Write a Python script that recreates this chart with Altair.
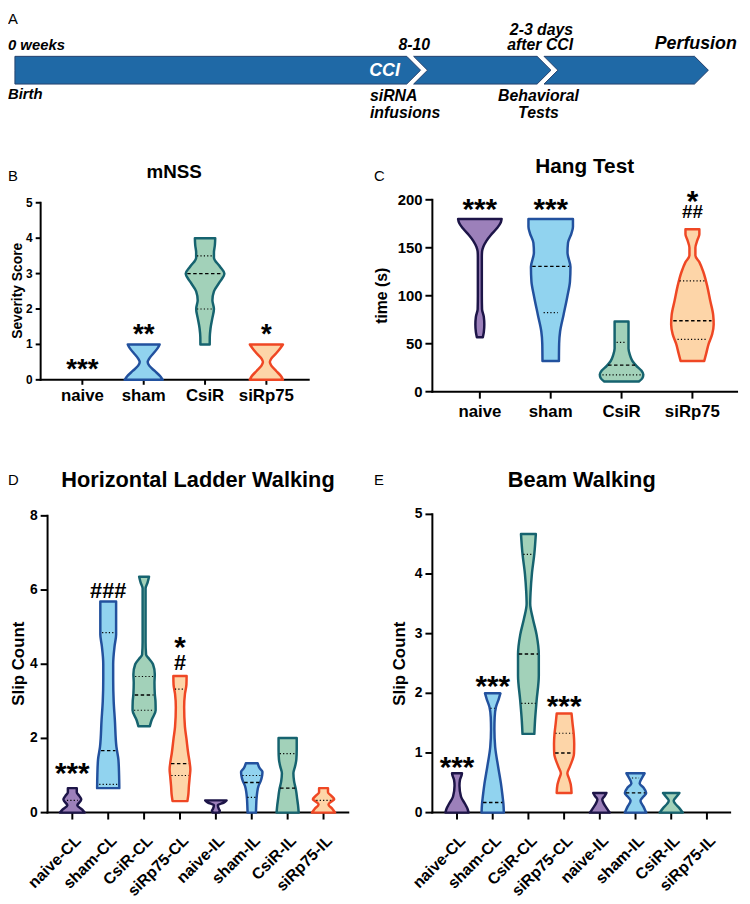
import altair as alt
import pandas as pd

FONT = "Liberation Sans"
W, H = 742, 896

# ---------------- colours (by treatment group) ----------------
base_groups = ["naive", "sham", "CsiR", "siRp75"]
fill_colors = ["#9c80ba", "#91d3ef", "#a2d1b9", "#fdd5a8"]
stroke_colors = ["#1d1548", "#22519e", "#16636f", "#ef4724"]

# ---------------- Panel A: timeline ----------------
timeline_milestones = ["Birth", "CCI", "Behavioral Tests", "Perfusion"]
timeline_pos = [0, 58.5, 77.3, 100]
timeline_upper_left = [("0 weeks", -1.0, 1.79)]
timeline_lower_left = [("Birth", -1.0, -1.71)]
timeline_upper_center = [("8-10", 57.6, 1.79)]
timeline_upper_right = [("2-3 days", 80.5, 2.93), ("after CCI", 80.5, 1.79)]
timeline_big_left = [("siRNA", 51.2, -1.9), ("infusions", 51.2, -3.08)]
timeline_big_center = [("Behavioral", 75.5, -1.9), ("Tests", 75.5, -3.08)]
timeline_big_right = [("Perfusion", 104.1, 1.86)]
timeline_inside = [("CCI", 53.3, -0.07)]

# ---------------- Panel B: mNSS (value, relative half-width) ----------------
mnss_groups = ["naive", "sham", "CsiR", "siRp75"]
mnss_values = {
    "sham": [0, 0.1, 0.25, 0.4, 0.5, 0.6, 0.75, 0.9, 1.0],
    "CsiR": [1.0, 1.2, 1.45, 1.75, 2.0, 2.25, 2.5, 2.75, 3.0, 3.2, 3.45, 3.6, 3.8, 4.0],
    "siRp75": [0, 0.1, 0.25, 0.4, 0.5, 0.6, 0.75, 0.9, 1.0],
}
mnss_widths = {
    "sham": [.31, .27, .18, .09, .065, .09, .16, .23, .26],
    "CsiR": [.076, .077, .089, .12, .145, .12, .145, .234, .315, .242, .145, .145, .16, .166],
    "siRp75": [.27, .24, .16, .08, .056, .08, .16, .23, .27],
}
mnss_lines = [("CsiR", 3.0, .29, "median"), ("CsiR", 3.5, .13, "quartile"), ("CsiR", 2.0, .13, "quartile")]
mnss_marks = [("naive", 0.48, "***"), ("sham", 1.47, "**"), ("siRp75", 1.47, "*")]
mnss_ticks = [0, 1, 2, 3, 4, 5]

# ---------------- Panel C: Hang test ----------------
hang_groups = ["naive", "sham", "CsiR", "siRp75"]
hang_values = {
    "naive": [56.7, 62, 70, 78, 86, 100, 120, 140, 146, 151, 157, 163, 170, 176, 180],
    "sham": [32, 50, 63, 80, 100, 115, 130, 145, 155, 165, 172, 180],
    "CsiR": [10.6, 14, 18, 22, 27, 32, 38, 45, 55, 65, 73.2],
    "siRp75": [32, 40, 50, 60, 70, 80, 95, 110, 125, 135, 142, 150, 158, 164, 169.4],
}
hang_widths = {
    "naive": [.042, .056, .063, .056, .031, .028, .028, .028, .031, .049, .091, .153, .237, .293, .307],
    "sham": [.116, .119, .133, .181, .237, .272, .279, .237, .244, .293, .314, .314],
    "CsiR": [.244, .293, .307, .279, .209, .153, .119, .098, .098, .098, .098],
    "siRp75": [.167, .195, .230, .279, .300, .293, .251, .209, .153, .098, .042, .042, .07, .098, .098],
}
hang_lines = [("sham", 130.6, .26, "median"), ("sham", 82.5, .10, "quartile"),
              ("CsiR", 27.7, .19, "median"), ("CsiR", 17.5, .27, "quartile"), ("CsiR", 51.5, .07, "quartile"),
              ("siRp75", 74, .27, "median"), ("siRp75", 115.5, .18, "quartile"), ("siRp75", 54.6, .21, "quartile")]
hang_marks = [("naive", 196.9, "***"), ("sham", 196.9, "***"), ("siRp75", 205.5, "*"), ("siRp75", 187.6, "##")]
hang_ticks = [0, 50, 100, 150, 200]

# ---------------- Panel D: Horizontal ladder walking ----------------
ladder_groups = ["naive-CL", "sham-CL", "CsiR-CL", "siRp75-CL", "naive-IL", "sham-IL", "CsiR-IL", "siRp75-IL"]
ladder_values = {
    "naive-CL": [0, 0.08, 0.2, 0.3, 0.36, 0.45, 0.55, 0.66],
    "sham-CL": [0.66, 1.0, 1.43, 1.77, 2.5, 3.0, 3.6, 4.0, 4.5, 4.8, 5.3, 5.69],
    "CsiR-CL": [2.33, 2.49, 2.76, 3.0, 3.2, 3.5, 3.73, 4.0, 4.15, 4.26, 4.6, 5.5, 6.04, 6.2, 6.36],
    "siRp75-CL": [0.31, 0.5, 0.71, 1.0, 1.16, 1.4, 1.6, 2.0, 2.31, 2.84, 3.2, 3.45, 3.68],
    "naive-IL": [0, 0.05, 0.1, 0.2, 0.27, 0.33],
    "sham-IL": [0, 0.2, 0.36, 0.55, 0.71, 0.85, 1.0, 1.1, 1.2, 1.33],
    "CsiR-IL": [0, 0.2, 0.36, 0.6, 0.85, 1.06, 1.25, 1.43, 1.7, 2.01],
    "siRp75-IL": [0, 0.1, 0.22, 0.3, 0.36, 0.45, 0.55, 0.66],
}
ladder_widths = {
    "naive-CL": [.344, .275, .138, .22, .248, .193, .124, .124],
    "sham-CL": [.309, .303, .284, .229, .185, .152, .138, .138, .179, .22, .22, .22],
    "CsiR-CL": [.16, .207, .322, .317, .298, .289, .298, .248, .138, .055, .041, .041, .041, .096, .138],
    "siRp75-CL": [.207, .234, .248, .275, .289, .262, .229, .179, .138, .116, .138, .179, .185],
    "naive-IL": [.083, .11, .083, .055, .22, .298],
    "sham-IL": [.116, .124, .132, .152, .185, .248, .289, .298, .22, .165],
    "CsiR-IL": [.309, .289, .267, .234, .179, .16, .207, .242, .253, .253],
    "siRp75-IL": [.322, .248, .138, .22, .298, .22, .124, .124],
}
ladder_lines = [("naive-CL", 0.33, .15, "quartile"),
                ("sham-CL", 1.67, .2, "median"), ("sham-CL", 4.85, .17, "quartile"), ("sham-CL", 0.76, .25, "quartile"),
                ("CsiR-CL", 3.17, .26, "median"), ("CsiR-CL", 3.67, .25, "quartile"), ("CsiR-CL", 2.76, .28, "quartile"),
                ("siRp75-CL", 1.32, .25, "median"), ("siRp75-CL", 3.33, .14, "quartile"), ("siRp75-CL", 1.0, .24, "quartile"),
                ("sham-IL", 0.81, .21, "median"), ("sham-IL", 1.0, .26, "quartile"), ("sham-IL", 0.41, .12, "quartile"),
                ("CsiR-IL", 0.66, .21, "median"), ("CsiR-IL", 1.59, .22, "quartile"),
                ("siRp75-IL", 0.33, .2, "quartile")]
ladder_marks = [("naive-CL", 1.24, "***"), ("sham-CL", 5.96, "###"), ("siRp75-CL", 4.64, "*"), ("siRp75-CL", 4.04, "#")]
ladder_ticks = [0, 2, 4, 6, 8]

# ---------------- Panel E: Beam walking ----------------
beam_groups = ["naive-CL", "sham-CL", "CsiR-CL", "siRp75-CL", "naive-IL", "sham-IL", "CsiR-IL", "siRp75-IL"]
beam_values = {
    "naive-CL": [0, 0.07, 0.14, 0.27, 0.45, 0.55, 0.62, 0.66],
    "sham-CL": [0, 0.15, 0.27, 0.49, 0.77, 1.1, 1.4, 1.6, 1.77, 1.9, 2.0],
    "CsiR-CL": [1.32, 1.55, 1.88, 2.3, 2.65, 2.98, 3.25, 3.5, 3.7, 4.0, 4.34, 4.67],
    "siRp75-CL": [0.33, 0.47, 0.57, 0.66, 0.77, 0.99, 1.15, 1.32, 1.5, 1.66],
    "naive-IL": [0, 0.08, 0.15, 0.22, 0.28, 0.33],
    "sham-IL": [0, 0.1, 0.2, 0.27, 0.33, 0.42, 0.49, 0.58, 0.66],
    "CsiR-IL": [0, 0.08, 0.15, 0.2, 0.27, 0.33],
}
beam_widths = {
    "naive-CL": [.324, .291, .23, .111, .069, .083, .125, .139],
    "sham-CL": [.313, .299, .277, .23, .152, .069, .047, .055, .091, .166, .216],
    "CsiR-CL": [.166, .186, .23, .291, .291, .23, .125, .05, .061, .097, .166, .208],
    "siRp75-CL": [.208, .186, .139, .091, .161, .277, .283, .269, .235, .208],
    "naive-IL": [.277, .186, .111, .069, .139, .186],
    "sham-IL": [.299, .222, .139, .222, .299, .222, .116, .18, .255],
    "CsiR-IL": [.324, .222, .111, .069, .152, .23],
}
beam_lines = [("sham-CL", 0.17, .27, "median"), ("sham-CL", 1.75, .06, "quartile"),
              ("CsiR-CL", 2.66, .27, "median"), ("CsiR-CL", 4.33, .14, "quartile"), ("CsiR-CL", 1.83, .2, "quartile"),
              ("siRp75-CL", 1.0, .25, "median"), ("siRp75-CL", 1.33, .24, "quartile"),
              ("sham-IL", 0.33, .27, "median"), ("sham-IL", 0.58, .1, "quartile")]
beam_marks = [("naive-CL", 0.88, "***"), ("sham-CL", 2.24, "***"), ("siRp75-CL", 1.90, "***")]
beam_ticks = [0, 1, 2, 3, 4, 5]

fill_scale = alt.Scale(domain=base_groups, range=fill_colors)
stroke_scale = alt.Scale(domain=base_groups, range=stroke_colors)


def text_layer(rows, xs, ys, size, dy=0, align="center", weight="bold", style="normal", color="black"):
    df = pd.DataFrame(rows, columns=["t", "xv", "yv"])
    return alt.Chart(df).mark_text(
        font=FONT, fontSize=size, fontWeight=weight, fontStyle=style, align=align,
        baseline="middle", dy=dy, color=color
    ).encode(
        x=alt.X("xv:Q", scale=xs, axis=None),
        y=alt.Y("yv:Q", scale=ys, axis=None),
        text="t:N",
    )


def axis_layers(groups, xs, ys, xdom, ydom, xrng, yrng, yticks, ylabel_size, xlabel_size, tick, rotate, xlab_dy):
    n = len(groups)
    X = lambda f: alt.X(f, scale=xs, axis=None)
    Y = lambda f: alt.Y(f, scale=ys, axis=None)
    out = []
    ydf = pd.DataFrame([{"x": xdom[0], "y": ydom[0], "y2": ydom[1]}])
    out.append(alt.Chart(ydf).mark_rule(color="black", strokeWidth=2, strokeCap="square").encode(
        x=X("x:Q"), y=Y("y:Q"), y2="y2:Q"))
    xdf = pd.DataFrame([{"x": xdom[0], "x2": xdom[1], "y": ydom[0]}])
    out.append(alt.Chart(xdf).mark_rule(color="black", strokeWidth=2, strokeCap="square").encode(
        x=X("x:Q"), x2="x2:Q", y=Y("y:Q")))
    ytdf = pd.DataFrame({"t": yticks, "x": [xdom[0]] * len(yticks), "lab": [str(v) for v in yticks]})
    out.append(alt.Chart(ytdf).mark_rule(color="black", strokeWidth=2).encode(
        x=X("x:Q"), x2=alt.value(xrng[0] - tick), y=Y("t:Q")))
    out.append(alt.Chart(ytdf).mark_text(
        font=FONT, fontSize=ylabel_size, fontWeight="bold", align="right", baseline="middle",
        dx=-(tick + 3), color="black").encode(x=X("x:Q"), y=Y("t:Q"), text="lab:N"))
    xtdf = pd.DataFrame({"i": list(range(n)), "y": [ydom[0]] * n, "lab": groups})
    out.append(alt.Chart(xtdf).mark_rule(color="black", strokeWidth=2).encode(
        x=X("i:Q"), y=Y("y:Q"), y2=alt.value(yrng[0] + tick)))
    if rotate:
        sx, sy = rotate
        ldx = round((sx - sy) * 0.7071, 1)
        ldy = round((sx + sy) * 0.7071, 1)
        out.append(alt.Chart(xtdf).mark_text(
            font=FONT, fontSize=xlabel_size, fontWeight="bold", align="right", baseline="middle",
            angle=315, dx=ldx, dy=ldy, color="black").encode(x=X("i:Q"), y=Y("y:Q"), text="lab:N"))
    else:
        out.append(alt.Chart(xtdf).mark_text(
            font=FONT, fontSize=xlabel_size, fontWeight="bold", align="center", baseline="top",
            dy=xlab_dy, color="black").encode(x=X("i:Q"), y=Y("y:Q"), text="lab:N"))
    return out


def violin_panel(groups, values, widths, lines, marks, xdom, xrng, ydom, yrng, yticks,
                 ylabel_size, xlabel_size, tick, rotate, xlab_dy, star_size, hash_size):
    rows = []
    for i, g in enumerate(groups):
        if g not in values:
            continue
        for v, w in zip(values[g], widths[g]):
            rows.append({"group": g, "base": g.split("-")[0], "v": v, "lo": i - w, "hi": i + w})
    df = pd.DataFrame(rows)
    xs = alt.Scale(domain=xdom, range=xrng, nice=False, zero=False)
    ys = alt.Scale(domain=ydom, range=yrng, nice=False, zero=False)
    layers = axis_layers(groups, xs, ys, xdom, ydom, xrng, yrng, yticks, ylabel_size, xlabel_size,
                         tick, rotate, xlab_dy)
    area = alt.Chart(df).mark_area(
        orient="horizontal", interpolate="monotone", strokeWidth=2.5, strokeJoin="round", opacity=1
    ).encode(
        x=alt.X("lo:Q", scale=xs, axis=None, stack=False),
        x2="hi:Q",
        y=alt.Y("v:Q", scale=ys, axis=None),
        fill=alt.Fill("base:N", scale=fill_scale, legend=None),
        stroke=alt.Stroke("base:N", scale=stroke_scale, legend=None),
        detail="group:N",
    )
    layers.append(area)
    lrows = [{"v": v, "lo": groups.index(g) - w, "hi": groups.index(g) + w, "kind": k} for g, v, w, k in lines]
    ldf = pd.DataFrame(lrows)
    for kind, dash, sw in [("median", [3.5, 2.5], 1.4), ("quartile", [1.2, 2.2], 1.2)]:
        sub = ldf[ldf["kind"] == kind]
        if len(sub):
            layers.append(alt.Chart(sub).mark_rule(color="black", strokeWidth=sw, strokeDash=dash).encode(
                x=alt.X("lo:Q", scale=xs, axis=None), x2="hi:Q",
                y=alt.Y("v:Q", scale=ys, axis=None)))
    srows = [(t, groups.index(g), v) for g, v, t in marks if "*" in t]
    hrows = [(t, groups.index(g), v) for g, v, t in marks if "#" in t]
    if srows:
        layers.append(text_layer(srows, xs, ys, star_size, dy=round(0.26 * star_size, 1)))
    if hrows:
        layers.append(text_layer(hrows, xs, ys, hash_size))
    return alt.layer(*layers)


# ---------------- Panel A build ----------------
chev, gap = 2.0, 1.0
seg_rows = []
for i in range(len(timeline_pos) - 1):
    a, b = timeline_pos[i], timeline_pos[i + 1]
    if i == 0:
        lc = lm = a
    else:
        lc, lm = a - chev + gap, a + gap
    for yv, l, r in [(-1, lc, b - chev), (0, lm, b), (1, lc, b - chev)]:
        seg_rows.append({"seg": timeline_milestones[i], "y": yv, "x": l, "x2": r})
seg_df = pd.DataFrame(seg_rows)
xsA = alt.Scale(domain=[0, 100], range=[7, 708], nice=False, zero=False)
ysA = alt.Scale(domain=[-1, 1], range=[72, 44], nice=False, zero=False)
bar = alt.Chart(seg_df).mark_area(
    orient="horizontal", interpolate="linear", fill="#1f69a6", stroke="#24416d", strokeWidth=1, opacity=1
).encode(
    x=alt.X("x:Q", scale=xsA, axis=None, stack=False),
    x2="x2:Q",
    y=alt.Y("y:Q", scale=ysA, axis=None),
    detail="seg:N",
)
panel_a = alt.layer(
    bar,
    text_layer(timeline_upper_left, xsA, ysA, 15, align="left", style="italic"),
    text_layer(timeline_lower_left, xsA, ysA, 15, align="left", style="italic"),
    text_layer(timeline_upper_center, xsA, ysA, 16, style="italic"),
    text_layer(timeline_upper_right, xsA, ysA, 16, align="right", style="italic"),
    text_layer(timeline_big_left, xsA, ysA, 16, align="left", style="italic"),
    text_layer(timeline_big_center, xsA, ysA, 16, style="italic"),
    text_layer(timeline_big_right, xsA, ysA, 18, align="right", style="italic"),
    text_layer(timeline_inside, xsA, ysA, 18, style="italic", color="white"),
)

panel_b = violin_panel(mnss_groups, mnss_values, mnss_widths, mnss_lines, mnss_marks,
                       [-0.68, 3.69], [33, 304], [0, 5], [371, 192], mnss_ticks,
                       12, 17, 5, None, 8, 28, 19)
panel_c = violin_panel(hang_groups, hang_values, hang_widths, hang_lines, hang_marks,
                       [-0.67, 3.63], [429, 737], [0, 200], [383, 189], hang_ticks,
                       15, 17, 7, None, 12.5, 30, 19)
panel_d = violin_panel(ladder_groups, ladder_values, ladder_widths, ladder_lines, ladder_marks,
                       [-0.69, 7.69], [40, 344], [0, 8], [808.5, 508.5], ladder_ticks,
                       14, 16, 7, (6, 26), 0, 30, 22)
panel_e = violin_panel(beam_groups, beam_values, beam_widths, beam_lines, beam_marks,
                       [-0.69, 7.65], [429, 730], [0, 5], [808.5, 507], beam_ticks,
                       14, 16, 7, (6, 26), 0, 30, 22)


def note(text, x, y, size, weight="bold", align="center", angle=0):
    mk = dict(font=FONT, fontSize=size, fontWeight=weight, align=align, baseline="middle", color="black")
    if angle:
        mk["angle"] = angle
    return alt.Chart(alt.Data(values=[{"k": 1}])).mark_text(**mk).encode(
        x=alt.value(x), y=alt.value(y), text=alt.value(text))


annotations = [
    note("A", 0, 6, 15, weight="normal", align="left"),
    note("B", 0, 165, 15, weight="normal", align="left"),
    note("C", 370, 165, 15, weight="normal", align="left"),
    note("D", 0, 472, 15, weight="normal", align="left"),
    note("E", 370, 472, 15, weight="normal", align="left"),
    note("mNSS", 168, 161, 19),
    note("Hang Test", 583, 156, 21),
    note("Horizontal Ladder Walking", 192, 472, 22),
    note("Beam Walking", 580, 472, 22),
    note("Severity Score", 10, 281, 14, angle=270),
    note("time (s)", 378, 286, 16, angle=270),
    note("Slip Count", 11, 658, 17, angle=270),
    note("Slip Count", 396, 658, 17, angle=270),
]

chart = alt.layer(panel_a, panel_b, panel_c, panel_d, panel_e, *annotations).resolve_scale(
    x="independent", y="independent"
).properties(
    width=W, height=H, padding=0, autosize=alt.AutoSizeParams(type="none")
).configure_view(stroke=None)

chart.save("out.html", embed_options={"renderer": "svg", "actions": False})
